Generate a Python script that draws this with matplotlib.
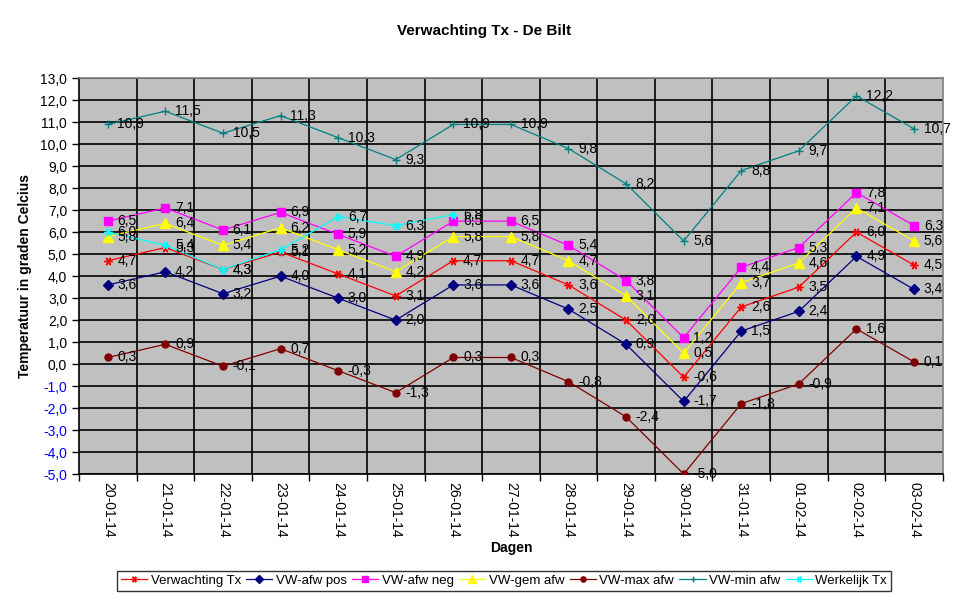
import matplotlib.pyplot as plt
import numpy as np

plt.rcParams['font.family'] = ['Liberation Sans', 'DejaVu Sans']

dagen = ['20-01-14', '21-01-14', '22-01-14', '23-01-14', '24-01-14', '25-01-14',
         '26-01-14', '27-01-14', '28-01-14', '29-01-14', '30-01-14', '31-01-14',
         '01-02-14', '02-02-14', '03-02-14']

verwachting = [4.7, 5.3, 4.3, 5.1, 4.1, 3.1, 4.7, 4.7, 3.6, 2.0, -0.6, 2.6, 3.5, 6.0, 4.5]
afw_pos = [3.6, 4.2, 3.2, 4.0, 3.0, 2.0, 3.6, 3.6, 2.5, 0.9, -1.7, 1.5, 2.4, 4.9, 3.4]
afw_neg = [6.5, 7.1, 6.1, 6.9, 5.9, 4.9, 6.5, 6.5, 5.4, 3.8, 1.2, 4.4, 5.3, 7.8, 6.3]
gem_afw = [5.8, 6.4, 5.4, 6.2, 5.2, 4.2, 5.8, 5.8, 4.7, 3.1, 0.5, 3.7, 4.6, 7.1, 5.6]
max_afw = [0.3, 0.9, -0.1, 0.7, -0.3, -1.3, 0.3, 0.3, -0.8, -2.4, -5.0, -1.8, -0.9, 1.6, 0.1]
min_afw = [10.9, 11.5, 10.5, 11.3, 10.3, 9.3, 10.9, 10.9, 9.8, 8.2, 5.6, 8.8, 9.7, 12.2, 10.7]
werkelijk = [6.0, 5.4, 4.3, 5.2, 6.7, 6.3, 6.8]

star = (6, 2, 90)
series = [
    ('Verwachting Tx', verwachting, '#FF0000', star, 6),
    ('VW-afw pos', afw_pos, '#000080', 'D', 5),
    ('VW-afw neg', afw_neg, '#FF00FF', 's', 6),
    ('VW-gem afw', gem_afw, '#FFFF00', '^', 7),
    ('VW-max afw', max_afw, '#800000', 'o', 5),
    ('VW-min afw', min_afw, '#008080', '+', 6),
    ('Werkelijk Tx', werkelijk, '#00FFFF', star, 6),
]

fig = plt.figure(figsize=(9.69, 6.02), dpi=100)
ax = fig.add_axes([0.0815, 0.2126, 0.8915, 0.6574])
ax.set_facecolor('#C0C0C0')

for name, vals, col, mk, ms in series:
    x = np.arange(len(vals))
    ax.plot(x, vals, color=col, lw=0.9, marker=mk, markersize=ms,
            markeredgecolor=col, markerfacecolor=col, markeredgewidth=1.0,
            label=name, zorder=3)
    for xi, v in zip(x, vals):
        ax.annotate(f'{v:.1f}'.replace('.', ','), (xi, v), xytext=(7, 0),
                    textcoords='offset points', ha='left', va='center',
                    fontsize=10, color='black', zorder=4)

ax.set_xlim(-0.5, len(dagen) - 0.5)
ax.set_ylim(-5, 13)

ax.set_yticks(np.arange(-5, 14, 1))
ax.set_yticklabels([f'{v:.1f}'.replace('.', ',') for v in np.arange(-5, 14, 1)])
for lab, v in zip(ax.get_yticklabels(), np.arange(-5, 14, 1)):
    lab.set_color('#0000FF' if v < 0 else 'black')
ax.tick_params(axis='y', labelsize=10, length=5, width=1, direction='out')
ax.grid(axis='y', color='black', lw=1.2, zorder=1)

# categorie-as: ticks op de grenzen, labels in het midden
ax.set_xticks(np.arange(-0.5, len(dagen), 1))
ax.set_xticklabels([])
ax.set_xticks(np.arange(len(dagen)), minor=True)
ax.set_xticklabels(dagen, minor=True, rotation=270, fontsize=10, va='top')
ax.tick_params(axis='x', which='major', length=5, width=1, direction='out')
ax.tick_params(axis='x', which='minor', length=0, pad=6)
for xb in np.arange(0.5, len(dagen) - 1, 1):
    ax.axvline(xb, color='black', lw=1.2, zorder=1)

for s in ['left', 'bottom']:
    ax.spines[s].set_color('black')
    ax.spines[s].set_linewidth(1.2)
for s in ['top', 'right']:
    ax.spines[s].set_color('#808080')
    ax.spines[s].set_linewidth(1.2)

ax.set_ylabel('Temperatuur in graden Celcius', fontsize=10, fontweight='bold', labelpad=6)
ax.set_xlabel('Dagen', fontsize=10, fontweight='bold', labelpad=2)
fig.text(0.5, 0.948, 'Verwachting Tx - De Bilt', ha='center', va='center',
         fontsize=11, fontweight='bold')

leg = fig.legend(loc='center', bbox_to_anchor=(0.52, 0.035), ncol=7, fontsize=9.5,
                 frameon=True, fancybox=False, edgecolor='black', handlelength=2.0,
                 handletextpad=0.25, columnspacing=0.4, borderpad=0.3,
                 borderaxespad=0, markerscale=0.75)
leg.get_frame().set_linewidth(1.0)

fig.savefig('out.png', dpi=100)
